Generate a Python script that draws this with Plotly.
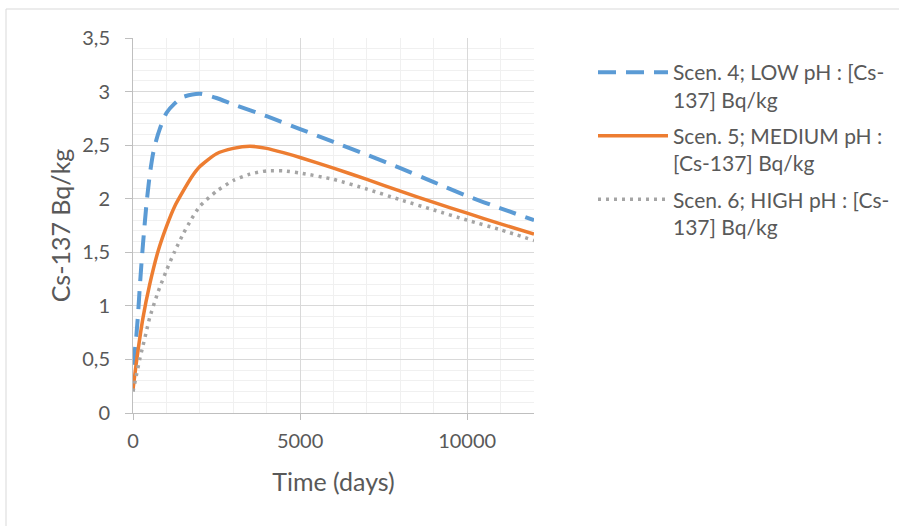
import plotly.graph_objects as go

# Sampled model output: time in days, Cs-137 activity in Bq/kg
days_low = [0, 50, 100, 150, 200, 250, 300, 400, 500, 600, 700, 800, 1000, 1250, 1500,
            2000, 2500, 3000, 4000, 5000, 6000, 7000, 8000, 9000, 10000, 11000, 12000]
cs_low = [0.45, 0.57, 0.72, 0.92, 1.16, 1.38, 1.58, 1.94, 2.22, 2.42, 2.55, 2.65, 2.80, 2.89, 2.95,
          2.98, 2.94, 2.88, 2.77, 2.65, 2.53, 2.41, 2.285, 2.155, 2.025, 1.91, 1.80]

days_med = [0, 100, 300, 500, 750, 1000, 1250, 1500, 1750, 2000, 2500, 3000, 3500, 4000,
            4500, 5000, 6000, 7000, 8000, 9000, 10000, 11000, 12000]
cs_med = [0.22, 0.47, 0.89, 1.20, 1.51, 1.74, 1.93, 2.07, 2.20, 2.30, 2.42, 2.47, 2.49, 2.47,
          2.43, 2.385, 2.285, 2.18, 2.07, 1.965, 1.865, 1.765, 1.67]

days_high = [0, 100, 200, 300, 400, 500, 750, 1000, 1250, 1500, 1750, 2000, 2500, 3000, 3500,
             4000, 4500, 5000, 6000, 7000, 8000, 9000, 10000, 11000, 12000]
cs_high = [0.20, 0.35, 0.50, 0.63, 0.76, 0.89, 1.13, 1.33, 1.51, 1.67, 1.81, 1.93, 2.07, 2.17, 2.23,
           2.26, 2.26, 2.24, 2.18, 2.09, 1.99, 1.895, 1.80, 1.71, 1.61]

series_names = [
    "Scen. 4; LOW pH : [Cs-<br>137] Bq/kg",
    "Scen. 5; MEDIUM pH :<br>[Cs-137] Bq/kg",
    "Scen. 6; HIGH pH : [Cs-<br>137] Bq/kg",
]

x_tick_vals = [0, 5000, 10000]
x_tick_text = ["0", "5000", "10000"]
y_tick_vals = [0, 0.5, 1, 1.5, 2, 2.5, 3, 3.5]
y_tick_text = ["0", "0,5", "1", "1,5", "2", "2,5", "3", "3,5"]

FONT = "Lato"
TXT = "#595959"
GRID_MAJOR = "#d9d9d9"
GRID_MINOR = "#f0f0f0"

fig = go.Figure()
fig.add_trace(go.Scatter(x=days_low, y=cs_low, mode="lines", name=series_names[0], legendgroup="s4",
                         line=dict(color="#5B9BD5", width=4, dash="18px,10px", shape="spline", smoothing=0.6)))
fig.add_trace(go.Scatter(x=days_med, y=cs_med, mode="lines", name=series_names[1], legendgroup="s5",
                         line=dict(color="#ED7D31", width=3.5, shape="spline", smoothing=0.6)))
fig.add_trace(go.Scatter(x=days_high, y=cs_high, mode="lines", name=series_names[2], legendgroup="s6",
                         line=dict(color="#A5A5A5", width=3.5, dash="3px,5px", shape="spline", smoothing=0.6)))

# outer chart-area frame
fig.add_shape(type="rect", xref="paper", yref="paper",
              x0=(6 - 133) / 401, x1=(905 - 133) / 401,
              y0=(413 - 530) / 375, y1=(413 - 9) / 375,
              line=dict(color="#d9d9d9", width=1), fillcolor="rgba(0,0,0,0)", layer="below")

fig.update_layout(
    width=899, height=526,
    margin=dict(l=133, r=365, t=38, b=113),
    paper_bgcolor="white", plot_bgcolor="white",
    font=dict(family=FONT, size=20, color=TXT),
    showlegend=True,
    legend=dict(xref="container", yref="container", x=593 / 899, y=1 - 52 / 526,
                xanchor="left", yanchor="top", valign="top",
                font=dict(family=FONT, size=21, color=TXT),
                itemwidth=70, tracegroupgap=6, bgcolor="rgba(0,0,0,0)"),
    xaxis=dict(
        range=[0, 12000], tickmode="array", tickvals=x_tick_vals, ticktext=x_tick_text,
        showgrid=True, gridcolor=GRID_MAJOR, gridwidth=1,
        showline=True, linecolor="#bfbfbf", linewidth=1,
        ticks="outside", ticklen=6, tickcolor="#bfbfbf", ticklabelstandoff=4,
        minor=dict(tickmode="linear", tick0=0, dtick=1000, showgrid=True,
                   gridcolor=GRID_MINOR, gridwidth=1),
        zeroline=False,
        title=dict(text="Time (days)", font=dict(family=FONT, size=25, color=TXT), standoff=22),
        tickfont=dict(family=FONT, size=20, color=TXT),
    ),
    yaxis=dict(
        range=[0, 3.5], tickmode="array", tickvals=y_tick_vals, ticktext=y_tick_text,
        showgrid=True, gridcolor=GRID_MAJOR, gridwidth=1,
        showline=True, linecolor="#bfbfbf", linewidth=1,
        ticks="outside", ticklen=7, tickcolor="#bfbfbf", ticklabelstandoff=11,
        minor=dict(tickmode="linear", tick0=0, dtick=0.1, showgrid=True,
                   gridcolor=GRID_MINOR, gridwidth=1),
        zeroline=False,
        title=dict(text="Cs-137 Bq/kg", font=dict(family=FONT, size=25, color=TXT), standoff=4),
        tickfont=dict(family=FONT, size=20, color=TXT),
    ),
)

fig.write_html("out.html")
